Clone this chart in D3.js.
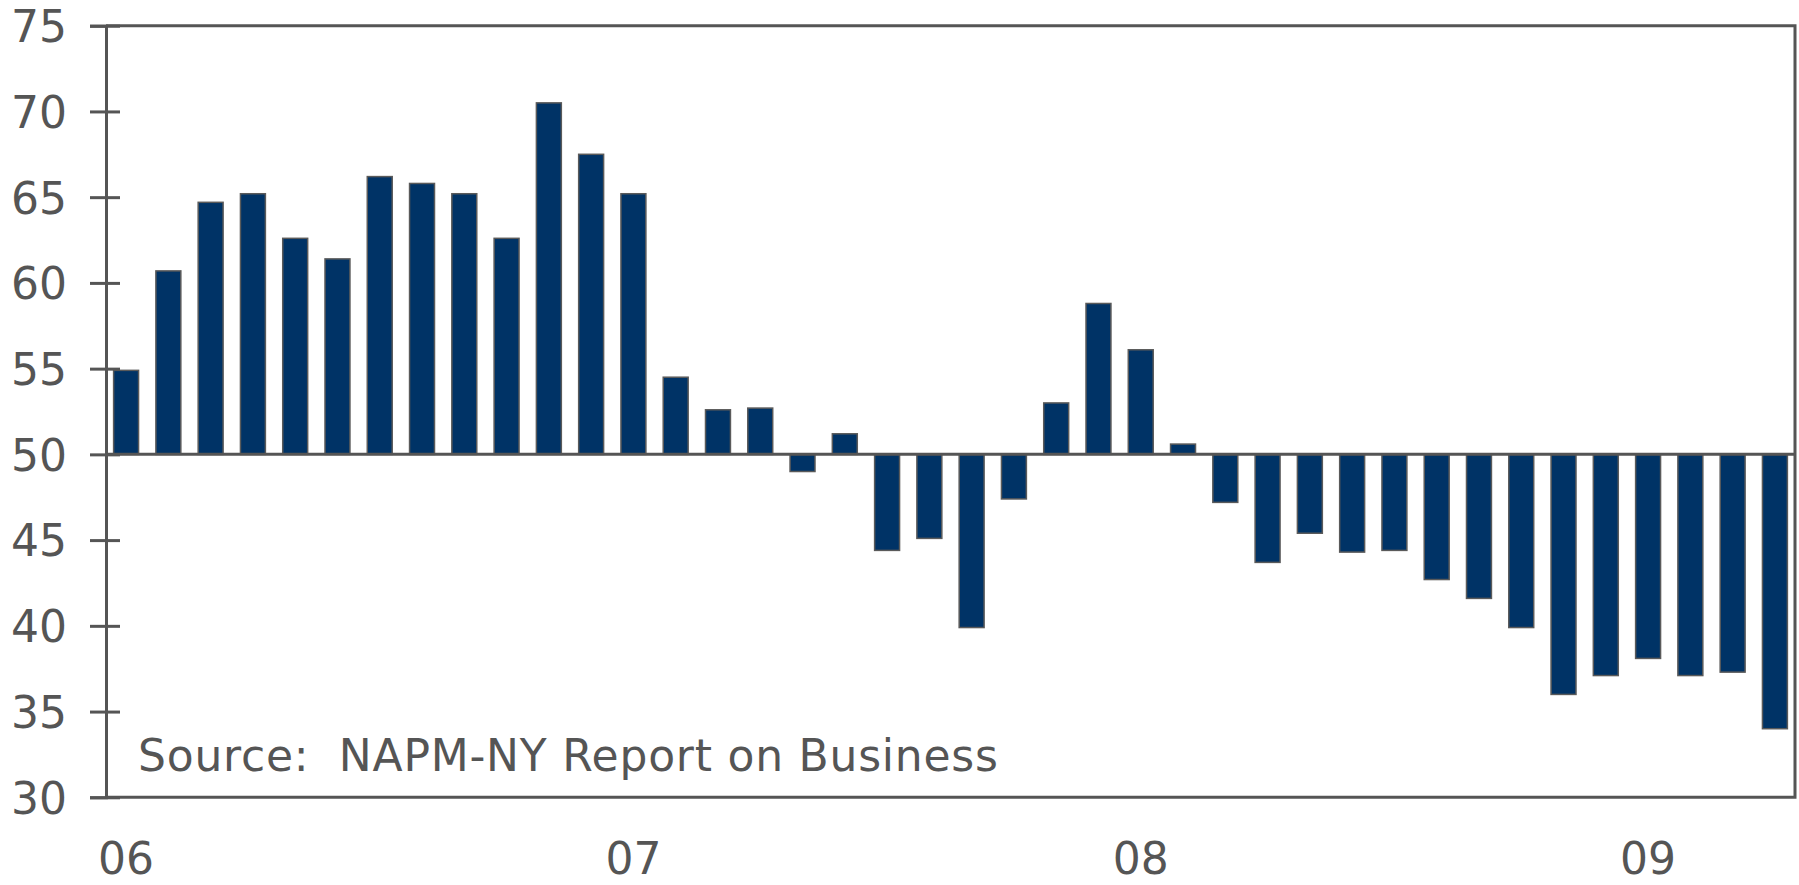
<!DOCTYPE html>
<html>
<head>
<meta charset="utf-8">
<script src="https://cdn.jsdelivr.net/npm/d3@7"></script>
<style>
  html, body { margin: 0; padding: 0; background: #fff; }
  svg { display: block; }
  text { font-family: "DejaVu Sans", Verdana, sans-serif; fill: #555; }
</style>
</head>
<body>
<div id="container"><svg></svg></div>
<script>
let width = 1799;
let height = 885;

// monthly index, Jan 2006 .. Apr 2009
let months = [];
for (let y = 2006; y <= 2009; y++) {
    for (let m = 1; m <= 12; m++) {
        if (y == 2009 && m > 4) break;
        months.push(y + "-" + (m < 10 ? "0" + m : m));
    }
}
let values = [
    54.9, 60.7, 64.7, 65.2, 62.6, 61.4, 66.2, 65.8, 65.2, 62.6, 70.5, 67.5,
    65.2, 54.5, 52.6, 52.7, 49.0, 51.2, 44.4, 45.1, 39.9, 47.4, 53.0, 58.8,
    56.1, 50.6, 47.2, 43.7, 45.4, 44.3, 44.4, 42.7, 41.6, 39.9, 36.0, 37.1,
    38.1, 37.1, 37.3, 34.0
];
let yTicks = [30, 35, 40, 45, 50, 55, 60, 65, 70, 75];
let yearTicks = ["2006-01", "2007-01", "2008-01", "2009-01"];
let yearLabels = ["06", "07", "08", "09"];
let baseValue = 50;
let source = "Source:  NAPM-NY Report on Business";

let plotL = 106, plotR = 1795, plotT = 25.7, plotB = 797.3;
let axisColor = "#555";
let fontSize = "44px";

function draw_chart() {
    let svg = d3.select('#container').select('svg')
        .attr('width', width)
        .attr('height', height);

    let x = d3.scaleBand()
        .domain(months)
        .range([plotL, plotR])
        .paddingInner(0.41)
        .paddingOuter(0.18);

    let y = d3.scaleLinear()
        .domain([30, 75])
        .range([plotB, plotT]);

    // bars, drawn from the 50 line
    svg.append("g")
        .selectAll("rect")
        .data(months)
        .join("rect")
        .attr("x", d => x(d))
        .attr("width", x.bandwidth())
        .attr("y", (d, i) => y(Math.max(values[i], baseValue)))
        .attr("height", (d, i) => Math.abs(y(values[i]) - y(baseValue)))
        .attr("fill", "#003366")
        .attr("stroke", "#5a5a5a")
        .attr("stroke-width", 1.5);

    // 50 line
    svg.append("line")
        .attr("x1", plotL).attr("x2", plotR)
        .attr("y1", y(baseValue)).attr("y2", y(baseValue))
        .attr("stroke", axisColor).attr("stroke-width", 3);

    // frame: top, right, bottom
    svg.append("path")
        .attr("d", `M${plotL},${y(75)}H${plotR}V${y(30)}H${plotL}`)
        .attr("fill", "none")
        .attr("stroke", axisColor)
        .attr("stroke-width", 3);

    // y axis
    let yAxis = svg.append("g")
        .attr("transform", `translate(${plotL},0)`)
        .call(d3.axisLeft(y).tickValues(yTicks).tickSize(16).tickPadding(0));
    yAxis.select(".domain").attr("stroke", axisColor).attr("stroke-width", 3);
    yAxis.selectAll(".tick line")
        .attr("x1", -16).attr("x2", 14)
        .attr("stroke", axisColor).attr("stroke-width", 3);
    yAxis.selectAll(".tick text")
        .attr("x", -39)
        .attr("dy", "0.36em")
        .attr("fill", "#555")
        .style("font-size", fontSize)
        .style("font-family", "'DejaVu Sans', Verdana, sans-serif");

    // x axis labels (year)
    let xAxis = svg.append("g")
        .attr("transform", `translate(0,${plotB})`)
        .call(d3.axisBottom(x).tickValues(yearTicks)
            .tickFormat((d, i) => yearLabels[i]).tickSize(0).tickPadding(45));
    xAxis.select(".domain").remove();
    xAxis.selectAll(".tick text")
        .attr("fill", "#555")
        .style("font-size", fontSize)
        .style("font-family", "'DejaVu Sans', Verdana, sans-serif");

    // source note
    svg.append("text")
        .attr("x", 138)
        .attr("y", 771)
        .attr("textLength", 860)
        .attr("lengthAdjust", "spacing")
        .style("font-size", fontSize)
        .style("white-space", "pre")
        .text(source);
}

draw_chart();
</script>
</body>
</html>
